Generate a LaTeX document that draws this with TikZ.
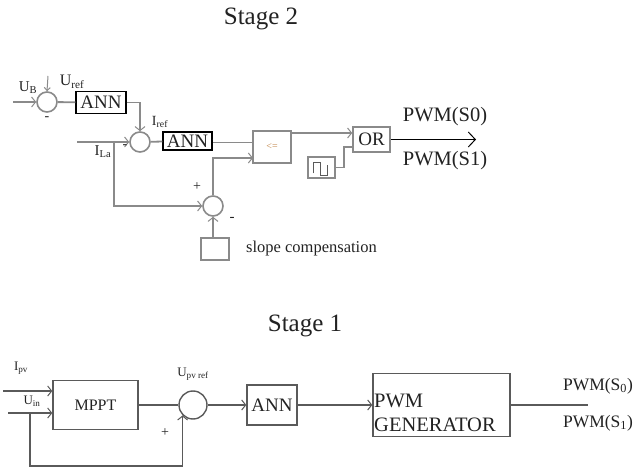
\documentclass[tikz,border=0pt]{standalone}
\usepackage{fontspec}
\setmainfont{Liberation Serif}
\usetikzlibrary{arrows.meta}
\definecolor{lgray}{HTML}{8A8A8A}
\definecolor{dgray}{HTML}{5A5A5A}
\definecolor{txt}{HTML}{222222}
\begin{document}
\begin{tikzpicture}[x=1pt,y=-1pt,
  every node/.style={text=txt},
  title/.style={font=\fontsize{25}{28}\selectfont},
  lab/.style={font=\fontsize{14}{16}\selectfont, inner sep=0pt},
  ln2/.style={draw=lgray, line width=1.8pt},
  ln1/.style={draw=dgray, line width=1.4pt},
  arr/.style={-{Straight Barb[length=4pt,width=10pt,line width=1pt]}},
  sumc/.style={circle, draw=lgray, line width=1.6pt, minimum size=20pt, inner sep=0pt},
  sumb/.style={circle, draw=dgray, line width=1.4pt, minimum size=28pt, inner sep=0pt},
  annbox/.style={draw=black, line width=1.3pt, inner sep=0pt, font=\fontsize{19}{21}\selectfont},
  gbox/.style={draw=lgray, line width=1.6pt, inner sep=0pt},
  bbox/.style={draw=dgray, line width=1.4pt, inner sep=0pt}
]
\useasboundingbox (0,0) rectangle (637,470);

% ---------------- Stage 2 ----------------
\node[title] (t2) at (261,19) {Stage 2};

\node[sumc] (c1) at (47,102) {};
\coordinate (in1) at (13,102);
\draw[ln2, arr] (in1) -- (c1);
\node[lab, font=\fontsize{15}{17}\selectfont] (ub) at (28,88) {U\textsubscript{B}};
\coordinate (ua) at (48,76);
\draw[ln2, line width=1pt, -{Straight Barb[length=3pt,width=6pt]}] (ua) -- (c1.north);
\node[lab, font=\fontsize{16}{18}\selectfont] (uref) at (72,82) {U\textsubscript{ref}};
\node[lab] (m1) at (47,119) {-};

\node[annbox, minimum width=50pt, minimum height=22pt] (ann1) at (101,102.5) {ANN};
\draw[ln2] (c1) -- (ann1);

\node[sumc] (c2) at (140,142) {};
\draw[ln2, arr] (ann1.east) -| (c2.north);
\node[lab] (iref) at (160,122) {I\textsubscript{ref}};

\node[annbox, minimum width=49pt, minimum height=18pt] (ann2) at (187.5,141) {ANN};
\draw[ln2] (c2) -- (ann2);

\coordinate (ila) at (77,142);
\draw[ln2, arr] (ila) -- (c2);
\node[lab, font=\fontsize{15}{17}\selectfont] (ilal) at (103,152) {I\textsubscript{La}};
\node[lab] (m2) at (125,147) {-};

\coordinate (j1) at (114,142);
\node[sumc] (c3) at (213,206) {};
\draw[ln2, arr] (j1) |- (c3);
\node[lab] (p3) at (197,187) {+};
\node[lab, font=\fontsize{15}{17}\selectfont] (m3) at (232,219) {-};

\node[gbox, minimum width=38pt, minimum height=32pt, font=\fontsize{10}{12}\selectfont, text=orange!50!gray] (le) at (272,147) {<=};
\draw[lgray, line width=0.8pt, double=white, double distance=3pt] (ann2.east) -- (ann2.east -| le.west);
\coordinate (lein2) at (253,158);
\draw[ln2, arr] (c3.north) |- (lein2);

\node[gbox, minimum width=28pt, minimum height=22pt] (slope) at (215,249) {};
\draw[ln2, arr] (slope.north -| c3) -- (c3.south);
\node[lab, anchor=west, font=\fontsize{16.5}{18}\selectfont] (slopel) at (246,249) {slope compensation};

\node[gbox, minimum width=37pt, minimum height=25pt, font=\fontsize{19}{21}\selectfont] (or) at (371.5,139.5) {OR};
\coordinate (leout) at (291,133);
\draw[ln2, arr] (leout) -- (or.west |- leout);

\node[gbox, minimum width=27pt, minimum height=21pt] (pulse) at (321.5,167.5) {};
\draw[dgray, line width=1pt] ([shift={(-8,6)}]pulse.center) -- ++(0,-11) -- ++(7,0) -- ++(0,13) -- ++(7,0) -- ++(0,-10);
\coordinate (k1) at (344,147);
\coordinate (orin2) at (353,147);
\draw[ln2] (pulse.east) -| (k1) -- (orin2);

\coordinate (pout) at (476,139.5);
\draw[black, line width=1.1pt, -{Straight Barb[length=7pt,width=15pt,line width=1pt]}] (or.east) -- (pout);
\node[font=\fontsize{20.5}{22}\selectfont] (pwm0) at (445,117) {PWM(S0)};
\node[font=\fontsize{20.5}{22}\selectfont] (pwm1) at (445,161) {PWM(S1)};

% ---------------- Stage 1 ----------------
\node[title] (t1) at (305,326) {Stage 1};

\node[bbox, minimum width=85pt, minimum height=49pt, font=\fontsize{16}{18}\selectfont] (mppt) at (95.5,405) {MPPT};
\coordinate (ipv) at (3,391);
\draw[ln1, arr] (ipv) -- (mppt.west |- ipv);
\coordinate (uin) at (8,413);
\draw[ln1, arr] (uin) -- (mppt.west |- uin);
\node[lab, font=\fontsize{13}{15}\selectfont] (ipvl) at (21,368) {I\textsubscript{pv}};
\node[lab, font=\fontsize{13}{15}\selectfont] (uinl) at (32,401) {U\textsubscript{in}};

\node[sumb] (c4) at (193,405) {};
\draw[ln1] (mppt.east) -- (c4.west);
\coordinate (fb) at (30,413);
\coordinate (fb2) at (30,466);
\draw[ln1, arr] (fb) -- (fb2) -| (c4.south west);
\node[lab] (p4) at (165,433) {+};
\node[lab, font=\fontsize{13}{15}\selectfont] (upvl) at (193,374) {U\textsubscript{pv ref}};

\node[bbox, minimum width=50pt, minimum height=40pt, font=\fontsize{19}{21}\selectfont] (ann3) at (272,405) {ANN};
\draw[ln1, arr] (c4.east) -- (ann3.west);

\node[bbox, minimum width=137pt, minimum height=63pt] (pwm) at (441.5,405) {};
\node[anchor=west, align=left, inner sep=0pt, font=\fontsize{20.5}{24}\selectfont] (pwmt) at (374,413) {PWM\\GENERATOR};
\draw[ln1, arr] (ann3.east) -- (pwm.west);

\coordinate (pwmo) at (588,405);
\draw[ln1] (pwm.east) -- (pwmo);
\node[font=\fontsize{17.5}{19}\selectfont] (pwms0) at (598,386) {PWM(S\textsubscript{0})};
\node[font=\fontsize{17.5}{19}\selectfont] (pwms1) at (598,423) {PWM(S\textsubscript{1})};
\end{tikzpicture}
\end{document}
